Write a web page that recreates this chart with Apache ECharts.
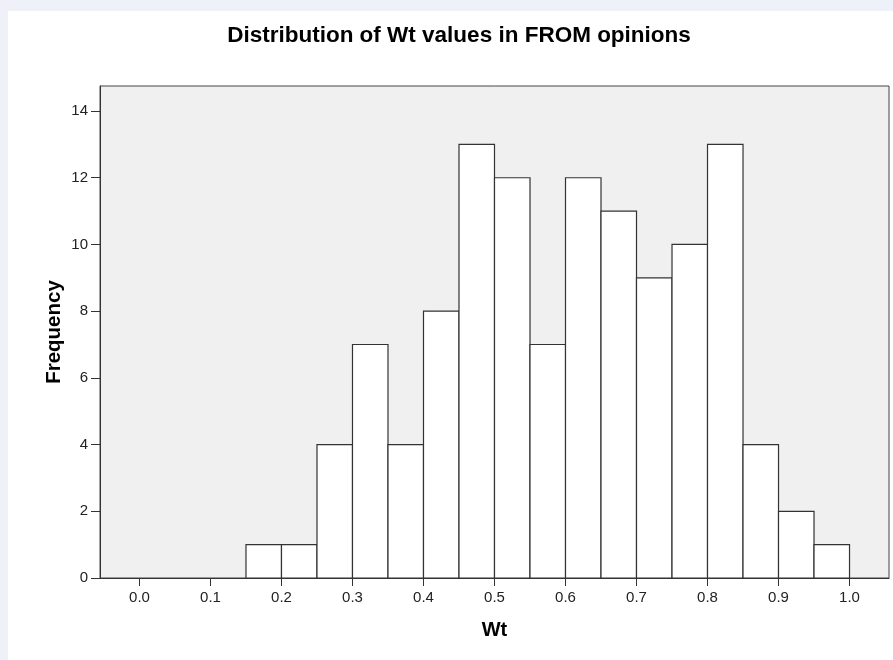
<!DOCTYPE html>
<html>
<head>
<meta charset="utf-8">
<script src="https://cdn.jsdelivr.net/npm/echarts@6/dist/echarts.min.js"></script>
<style>
html,body{margin:0;padding:0;background:#eff1f8;}
#chart{width:893px;height:660px;}
</style>
</head>
<body>
<div id="chart"></div>
<script>
// Data
const binLower = [0.15,0.20,0.25,0.30,0.35,0.40,0.45,0.50,0.55,0.60,0.65,0.70,0.75,0.80,0.85,0.90,0.95];
const binUpper = [0.20,0.25,0.30,0.35,0.40,0.45,0.50,0.55,0.60,0.65,0.70,0.75,0.80,0.85,0.90,0.95,1.00];
const frequency = [1,1,4,7,4,8,13,12,7,12,11,9,10,13,4,2,1];
const xTicks = [0.0,0.1,0.2,0.3,0.4,0.5,0.6,0.7,0.8,0.9,1.0];
const yTicks = [0,2,4,6,8,10,12,14];

const data = binLower.map((lo, i) => [lo, binUpper[i], frequency[i]]);

const chart = echarts.init(document.getElementById('chart'), null, {renderer: 'canvas'});
const font = 'Arial, "Liberation Sans", Helvetica, sans-serif';

chart.setOption({
  backgroundColor: 'transparent',
  animation: false,
  graphic: [{
    type: 'rect', z: -10, silent: true,
    shape: {x: 8, y: 11, width: 900, height: 660},
    style: {fill: '#ffffff'}
  }],
  title: {
    text: 'Distribution of Wt values in FROM opinions',
    left: 454, top: 19, textAlign: 'center',
    textStyle: {fontFamily: font, fontSize: 22.5, fontWeight: 'bold', color: '#000'}
  },
  grid: {
    left: 100, right: 4, top: 86, bottom: 82,
    show: true, backgroundColor: '#f0f0f0', borderColor: '#444', borderWidth: 1
  },
  xAxis: {
    type: 'value', min: -0.0556, max: 1.0556,
    name: 'Wt', nameLocation: 'middle', nameGap: 42, nameMoveOverlap: false,
    nameTextStyle: {fontFamily: font, fontSize: 20, fontWeight: 'bold', color: '#000'},
    axisLine: {show: true, onZero: false, lineStyle: {color: '#333', width: 1}},
    axisTick: {show: true, length: 8, customValues: xTicks, lineStyle: {color: '#333'}},
    axisLabel: {customValues: xTicks, margin: 12, fontFamily: font, fontSize: 15, color: '#222',
      formatter: v => v.toFixed(1)},
    splitLine: {show: false}
  },
  yAxis: {
    type: 'value', min: 0, max: 14.75,
    name: 'Frequency', nameLocation: 'middle', nameGap: 35, nameRotate: 90, nameMoveOverlap: false,
    nameTextStyle: {fontFamily: font, fontSize: 20.5, fontWeight: 'bold', color: '#000'},
    axisLine: {show: true, onZero: false, lineStyle: {color: '#333', width: 1}},
    axisTick: {show: true, length: 9, customValues: yTicks, lineStyle: {color: '#333'}},
    axisLabel: {customValues: yTicks, margin: 12, fontFamily: font, fontSize: 15, color: '#222'},
    splitLine: {show: false}
  },
  series: [{
    type: 'custom',
    data: data,
    encode: {x: [0, 1], y: 2},
    renderItem: function (params, api) {
      const p0 = api.coord([api.value(0), 0]);
      const p1 = api.coord([api.value(1), api.value(2)]);
      return {
        type: 'rect',
        shape: {x: p0[0], y: p1[1], width: p1[0] - p0[0], height: p0[1] - p1[1]},
        style: {fill: '#ffffff', stroke: '#333333', lineWidth: 1.2}
      };
    }
  }]
});
</script>
</body>
</html>
